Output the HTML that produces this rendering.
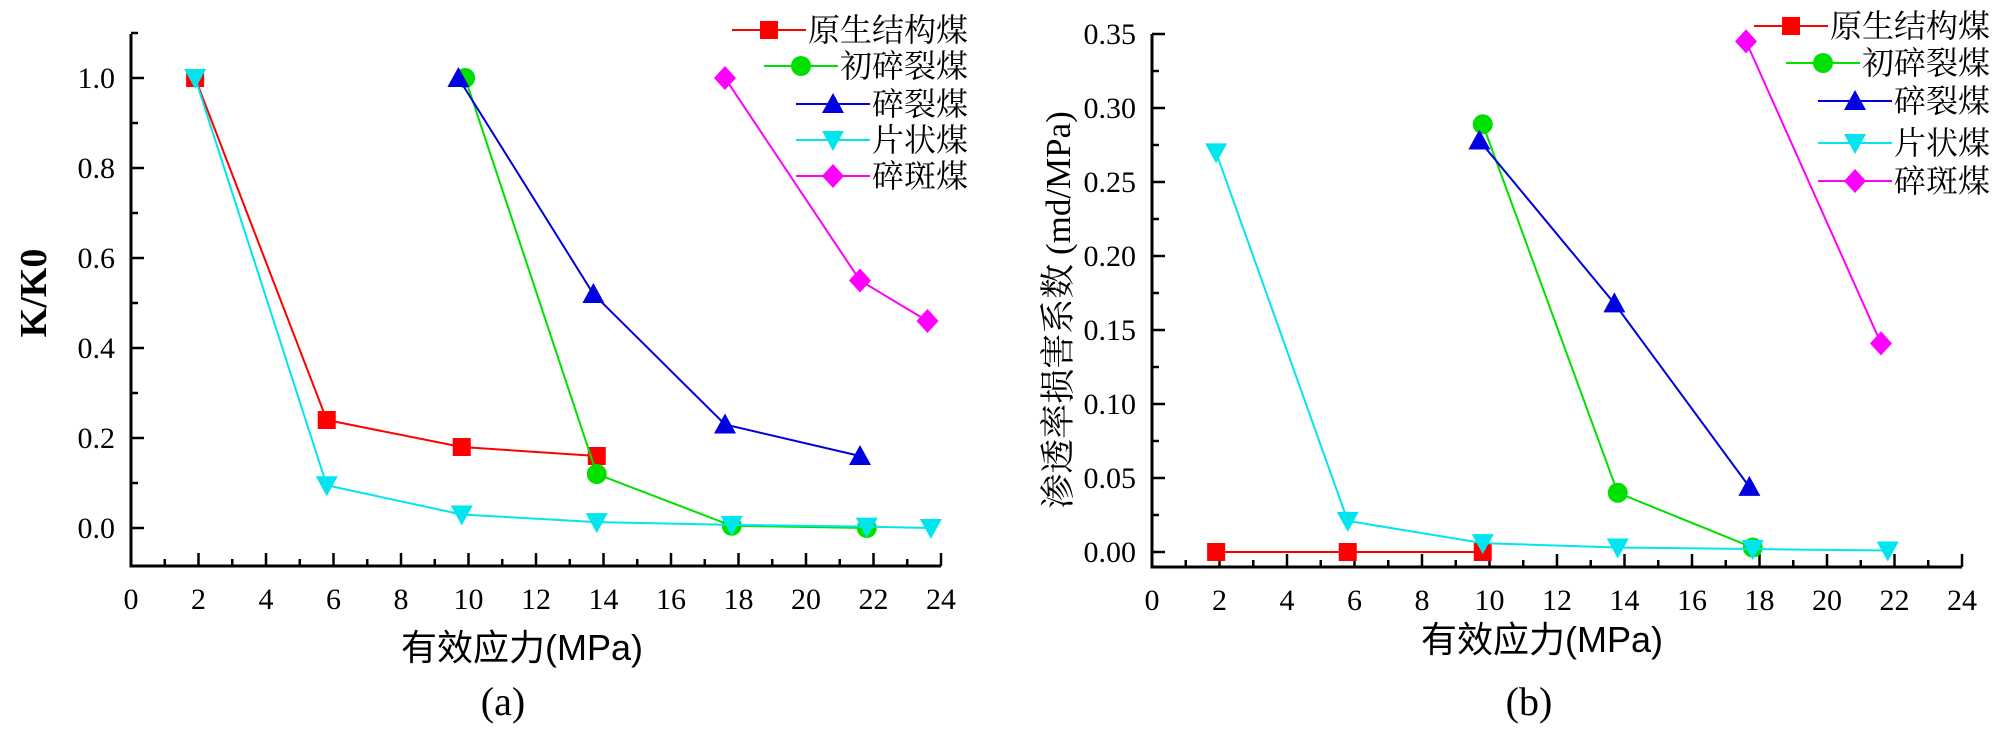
<!DOCTYPE html>
<html><head><meta charset="utf-8"><style>
html,body{margin:0;padding:0;background:#fff;}
svg{display:block;}
text{font-family:"Liberation Serif","Noto Serif CJK SC",serif;fill:#000;}
.cjk{font-family:"Liberation Sans","Noto Sans CJK SC",sans-serif;}
.song{font-family:"Liberation Serif","Noto Serif CJK SC",serif;}
</style></head><body>
<svg id="fig" width="2000" height="734" viewBox="0 0 2000 734" xmlns="http://www.w3.org/2000/svg"></svg>
<script>
// ---- data (chart a) ----
const seriesNames = ['原生结构煤','初碎裂煤','碎裂煤','片状煤','碎斑煤'];
const seriesColors = ['#ff0000','#00e000','#0000e0','#00e5ee','#ff00ff'];
const seriesMarkers = ['square','circle','up','down','diamond'];
const xTicks = [0,2,4,6,8,10,12,14,16,18,20,22,24];
const aYTicks = [0.0,0.2,0.4,0.6,0.8,1.0];
const aYLabels = ['0.0','0.2','0.4','0.6','0.8','1.0'];
const aX0 = [1.9,5.8,9.8,13.8];          const aY0 = [1.0,0.24,0.18,0.16];
const aX1 = [9.9,13.8,17.8,21.8];        const aY1 = [1.0,0.12,0.005,0.0];
const aX2 = [9.7,13.7,17.6,21.6];        const aY2 = [1.0,0.52,0.23,0.16];
const aX3 = [1.9,5.8,9.8,13.8,17.8,21.8,23.7]; const aY3 = [1.0,0.095,0.03,0.013,0.007,0.003,0.0];
const aX4 = [17.6,21.6,23.6];            const aY4 = [1.0,0.55,0.46];
// ---- data (chart b) ----
const bYTicks = [0,0.05,0.10,0.15,0.20,0.25,0.30,0.35];
const bYLabels = ['0.00','0.05','0.10','0.15','0.20','0.25','0.30','0.35'];
const bX0 = [1.9,5.8,9.8];               const bY0 = [0,0,0];
const bX1 = [9.8,13.8,17.8];             const bY1 = [0.289,0.04,0.003];
const bX2 = [9.7,13.7,17.7];             const bY2 = [0.278,0.168,0.044];
const bX3 = [1.9,5.8,9.8,13.8,17.8,21.8]; const bY3 = [0.27,0.021,0.006,0.003,0.002,0.001];
const bX4 = [17.6,21.6];                 const bY4 = [0.345,0.141];

const NS='http://www.w3.org/2000/svg';
const svg=document.getElementById('fig');
function mk(tag,attrs,parent){const e=document.createElementNS(NS,tag);for(const k in attrs)e.setAttribute(k,attrs[k]);(parent||svg).appendChild(e);return e;}

function marker(g,type,cx,cy,color){
  const s=9;let e;
  if(type==='square')e=mk('rect',{x:cx-s,y:cy-s,width:2*s,height:2*s,fill:color},g);
  else if(type==='circle')e=mk('circle',{cx:cx,cy:cy,r:s+1,fill:color},g);
  else if(type==='up')e=mk('polygon',{points:`${cx},${cy-s-2} ${cx+s+2},${cy+s} ${cx-s-2},${cy+s}`,fill:color},g);
  else if(type==='down')e=mk('polygon',{points:`${cx},${cy+s+2} ${cx+s+2},${cy-s} ${cx-s-2},${cy-s}`,fill:color},g);
  else e=mk('polygon',{points:`${cx},${cy-s-3} ${cx+s+2},${cy} ${cx},${cy+s+3} ${cx-s-2},${cy}`,fill:color},g);
  
  
  return e;
}

function chart(o){
  const g=mk('g',{});
  
  
  const sx=v=>o.x0+(v-0)*(o.x1-o.x0)/24;
  const sy=v=>o.yZero+(v)*(o.yOne-o.yZero)/o.yRef;
  const ax=mk('path',{d:`M${o.x0},${o.top} V${o.bottom} H${o.x1}`,stroke:'#000','stroke-width':3,fill:'none'},g);
  
  
  for(let v=0;v<=24;v++){
    const major=v%2===0;
    mk('line',{x1:sx(v),x2:sx(v),y1:o.bottom,y2:o.bottom-(major?13:7),stroke:'#000','stroke-width':2.5},g);
  }
  xTicks.forEach(v=>{
    const t=mk('text',{x:sx(v),y:o.bottom+43,'text-anchor':'middle','font-size':30,style:'font-family:"Liberation Serif",serif'},g);
    t.textContent=v;
    
    
  });
  for(let v=o.minorStart;v<=o.yMax+1e-9;v+=o.minor){
    const isMajor=o.yTicks.some(t=>Math.abs(t-v)<1e-6);
    mk('line',{x1:o.x0,x2:o.x0+(isMajor?13:7),y1:sy(v),y2:sy(v),stroke:'#000','stroke-width':2.5},g);
  }
  o.yTicks.forEach((v,i)=>{
    const t=mk('text',{x:o.x0-16,y:sy(v)+10,'text-anchor':'end','font-size':30,style:'font-family:"Liberation Serif",serif'},g);
    t.textContent=o.yLabels[i];
    
    
  });
  o.xs.forEach((xs,i)=>{
    const ys=o.ys[i];
    const sg=mk('g',{},g);
    
    
    const pts=xs.map((x,j)=>sx(x)+','+sy(ys[j])).join(' ');
    mk('polyline',{points:pts,fill:'none',stroke:seriesColors[i],'stroke-width':2},sg);
    xs.forEach((x,j)=>marker(sg,seriesMarkers[i],sx(x),sy(ys[j]),seriesColors[i]));
  });
  const lg=mk('g',{},g);
  
  
  seriesNames.forEach((n,i)=>{
    const y=o.legY[i];
    const tx=o.legRight-n.length*32;
    const e=mk('g',{},lg);
    
    
    mk('line',{x1:tx-76,x2:tx-2,y1:y,y2:y,stroke:seriesColors[i],'stroke-width':2},e);
    marker(e,seriesMarkers[i],tx-39,y,seriesColors[i]);
    const t=mk('text',{x:tx,y:y+11,'font-size':32,class:'song'},e);
    t.textContent=n;
  });
  const xt=mk('text',{x:o.xtX,y:o.xtY,'text-anchor':'middle','font-size':36,class:'cjk'},g);
  xt.textContent='有效应力(MPa)';
  
  
  const yt=mk('text',{x:0,y:0,'text-anchor':'middle','font-size':o.ytSize,transform:`translate(${o.ytX},${o.ytY}) rotate(-90)`,'font-weight':o.ytWeight,class:o.ytClass},g);
  yt.textContent=o.ytText;
  
  
  const cap=mk('text',{x:o.capX,y:715,'text-anchor':'middle','font-size':40},g);
  cap.textContent=o.cap;
  
  
}

chart({name:'chart-a',x0:131,x1:941,top:34,bottom:566,yZero:528,yOne:78,yRef:1.0,yMax:1.1,
  minor:0.1,minorStart:0,yTicks:aYTicks,yLabels:aYLabels,
  xs:[aX0,aX1,aX2,aX3,aX4],ys:[aY0,aY1,aY2,aY3,aY4],
  legRight:968,legY:[30,66,104,140,176],xtX:522,xtY:660,
  ytX:46,ytY:293,ytSize:38,ytWeight:'bold',ytClass:'song',ytText:'K/K0',cap:'(a)',capX:503});
chart({name:'chart-b',x0:1152,x1:1962,top:34,bottom:567,yZero:552,yOne:34,yRef:0.35,yMax:0.35,
  minor:0.025,minorStart:0,yTicks:bYTicks,yLabels:bYLabels,
  xs:[bX0,bX1,bX2,bX3,bX4],ys:[bY0,bY1,bY2,bY3,bY4],
  legRight:1990,legY:[26,63,101,143,181],xtX:1542,xtY:652,
  ytX:1070,ytY:310,ytSize:35,ytWeight:'normal',ytClass:'song',ytText:'渗透率损害系数 (md/MPa)',cap:'(b)',capX:1529});
</script>
</body></html>
